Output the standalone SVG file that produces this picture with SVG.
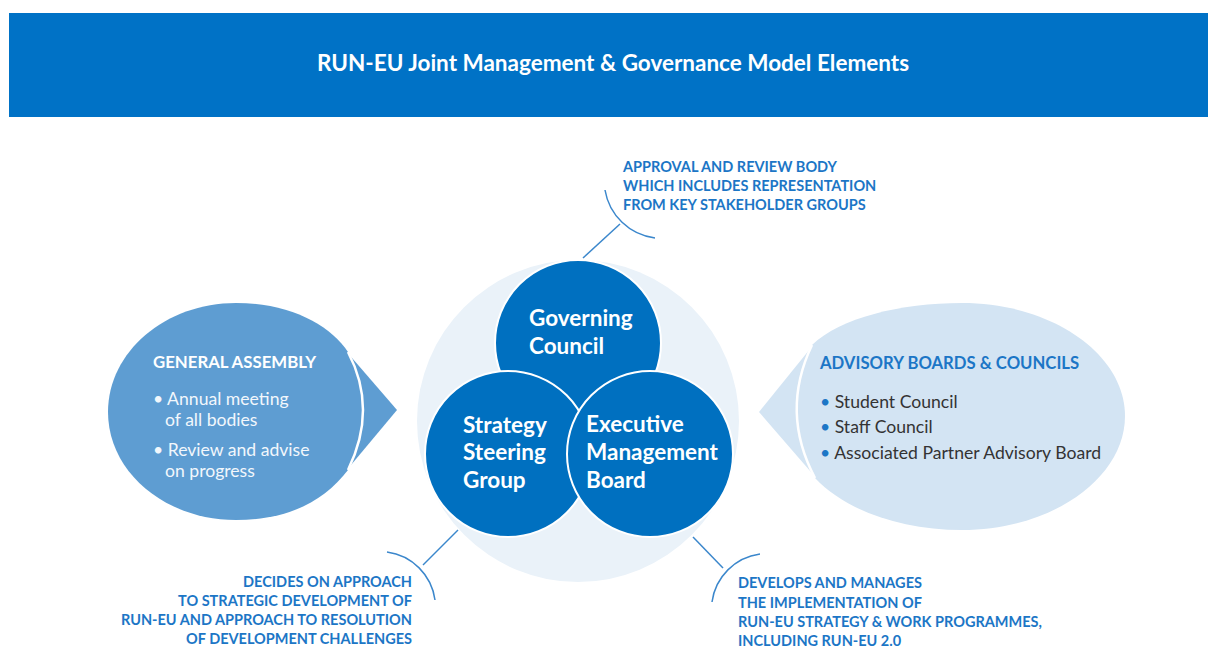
<svg xmlns="http://www.w3.org/2000/svg" width="1208" height="649" viewBox="0 0 1208 649">
<style>
text{font-family:Lato,"Open Sans","Liberation Sans",sans-serif}
.title{font-size:22.5px;font-weight:700;fill:#fff}
.clabel{font-size:22.5px;font-weight:700;fill:#fff}
.callout{font-size:14.5px;font-weight:700;fill:#1C76C6}
.gah{font-size:16.8px;font-weight:700;fill:#fff}
.gab{font-size:17.6px;fill:#F2F7FC}
.adh{font-size:16.7px;font-weight:700;fill:#1C76C6}
.adb{font-size:17.6px;fill:#333}
.bul{fill:#1C76C6}
.conn{fill:none;stroke:#3B87CC;stroke-width:1.5}
.big{fill:#0070C0;stroke:#fff;stroke-width:2}
.gap{fill:none;stroke:#fff;stroke-width:2.5}
</style>
<rect x="0" y="0" width="1208" height="649" fill="#fff"/>
<g id="header">
<rect x="9" y="13" width="1199" height="104" fill="#0072C6"/>
<text class="title" x="613" y="71" text-anchor="middle">RUN-EU Joint Management &amp; Governance Model Elements</text>
</g>
<g id="backdrop">
<circle cx="578" cy="421" r="161" fill="#EAF2F9"/>
</g>
<g id="connectors">
<path class="conn" d="M605,190 A58,58 0 0 0 655,238"/>
<path class="conn" d="M583,258 L620,224"/>
<path class="conn" d="M387,552 A56,56 0 0 1 435,600"/>
<path class="conn" d="M423,565 L458,530"/>
<path class="conn" d="M760,554 A56,56 0 0 0 712,602"/>
<path class="conn" d="M693,537 L723,568"/>
</g>
<g id="general-assembly">
<path d="M346,351 L397,410 L346,471 Z" fill="#5E9DD2"/>
<path d="M236,303 C290,303 330,325 348,352 Q378,409 348,470 C325,500 290,520 236,520 C165,520 108,472 108,412 C108,352 165,303 236,303 Z" fill="#5E9DD2"/>
<path class="gap" d="M348,352 Q378,409 348,470"/>
<text class="gah" x="153" y="368">GENERAL ASSEMBLY</text>
<text class="gab" x="153" y="405">• Annual meeting</text>
<text class="gab" x="165" y="426">of all bodies</text>
<text class="gab" x="153" y="456">• Review and advise</text>
<text class="gab" x="165" y="477">on progress</text>
</g>
<g id="advisory">
<path d="M814,344 L759,412 L817,479 Z" fill="#D3E4F3"/>
<path d="M962,303 C1052,303 1125,354 1125,416 C1125,478 1052,530 962,530 C900,530 845,510 815,478 Q780,412 812,345 C840,318 900,303 962,303 Z" fill="#D3E4F3"/>
<path class="gap" d="M815,478 Q780,412 812,345"/>
<text class="adh" x="820" y="369">ADVISORY BOARDS &amp; COUNCILS</text>
<text class="adb" x="820" y="408"><tspan class="bul">•</tspan> Student Council</text>
<text class="adb" x="820" y="433"><tspan class="bul">•</tspan> Staff Council</text>
<text class="adb" x="820" y="459"><tspan class="bul">•</tspan> Associated Partner Advisory Board</text>
</g>
<g id="governing-council">
<circle class="big" cx="578" cy="343" r="83"/>
<text class="clabel" x="529" y="326">Governing</text>
<text class="clabel" x="529" y="354">Council</text>
</g>
<g id="strategy-steering-group">
<circle class="big" cx="508" cy="454" r="83"/>
<text class="clabel" x="463" y="433">Strategy</text>
<text class="clabel" x="463" y="460">Steering</text>
<text class="clabel" x="463" y="488">Group</text>
</g>
<g id="executive-management-board">
<circle class="big" cx="650" cy="454" r="83"/>
<text class="clabel" x="586" y="432">Executive</text>
<text class="clabel" x="586" y="460">Management</text>
<text class="clabel" x="586" y="488">Board</text>
</g>
<g id="callout-governing">
<text class="callout" x="623" y="172">APPROVAL AND REVIEW BODY</text>
<text class="callout" x="623" y="191">WHICH INCLUDES REPRESENTATION</text>
<text class="callout" x="623" y="210">FROM KEY STAKEHOLDER GROUPS</text>
</g>
<g id="callout-strategy">
<text class="callout" x="412" y="587" text-anchor="end">DECIDES ON APPROACH</text>
<text class="callout" x="412" y="606" text-anchor="end">TO STRATEGIC DEVELOPMENT OF</text>
<text class="callout" x="412" y="625" text-anchor="end">RUN-EU AND APPROACH TO RESOLUTION</text>
<text class="callout" x="412" y="644" text-anchor="end">OF DEVELOPMENT CHALLENGES</text>
</g>
<g id="callout-executive">
<text class="callout" x="738" y="588">DEVELOPS AND MANAGES</text>
<text class="callout" x="738" y="608">THE IMPLEMENTATION OF</text>
<text class="callout" x="738" y="627">RUN-EU STRATEGY &amp; WORK PROGRAMMES,</text>
<text class="callout" x="738" y="646">INCLUDING RUN-EU 2.0</text>
</g>
</svg>
